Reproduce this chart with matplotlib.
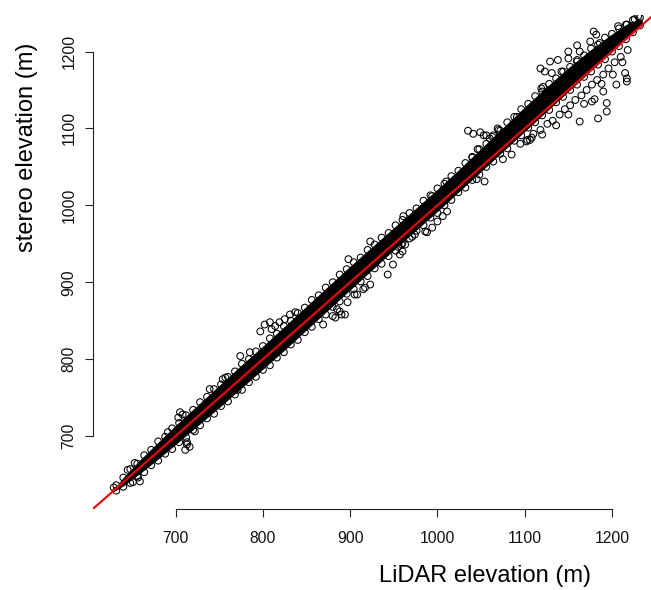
import matplotlib
matplotlib.use("Agg")
import matplotlib.pyplot as plt

plt.rcParams['font.family'] = ['Liberation Sans', 'DejaVu Sans']

# Dense core of the point cloud (edges of the solid black band)
band_lidar = [628, 640, 660, 680, 700, 725, 750, 775, 800, 825, 850, 875, 900, 925,
              950, 975, 1000, 1025, 1050, 1075, 1100, 1125, 1150, 1175, 1200, 1220, 1234]
band_low = [628, 636, 653, 671, 690, 714, 738, 763, 788, 813, 839, 865, 891, 917,
            943, 968, 993, 1019, 1045, 1071, 1097, 1123, 1149, 1175, 1201, 1222, 1236]
band_high = [628, 645, 669, 691, 713, 739, 765, 791, 816, 842, 868, 894, 920, 945,
             970, 995, 1020, 1046, 1073, 1100, 1127, 1153, 1178, 1201, 1222, 1237, 1242]

# Points along the upper edge of the band
upper_lidar = [632, 640, 648, 656, 664, 672, 680, 688, 696, 704, 712, 720, 728, 736, 744,
               752, 760, 768, 776, 784, 792, 800, 808, 816, 824, 832, 840, 848, 856, 864,
               872, 880, 888, 896, 904, 912, 920, 928, 936, 944, 952, 960, 968, 976, 984,
               992, 1000, 1008, 1016, 1024, 1032, 1040, 1048, 1056, 1064, 1072, 1080, 1088,
               1096, 1104, 1112, 1120, 1128, 1136, 1144, 1152, 1160, 1168, 1176, 1184, 1192,
               1200, 1208, 1216, 1224, 1232]
upper_stereo = [636, 646, 657, 664, 675, 682, 693, 699, 710, 717, 727, 734, 744, 751, 761,
                767, 777, 784, 794, 800, 810, 817, 827, 833, 843, 850, 860, 867, 877, 883,
                893, 900, 910, 917, 926, 932, 942, 949, 958, 964, 974, 981, 990, 996, 1006,
                1013, 1022, 1028, 1038, 1045, 1055, 1062, 1073, 1080, 1091, 1097, 1108, 1115,
                1125, 1132, 1142, 1148, 1158, 1165, 1174, 1180, 1189, 1195, 1204, 1209, 1218,
                1223, 1230, 1235, 1241, 1244]

# Points along the lower edge of the band
lower_lidar = upper_lidar[:]
lower_stereo = [629, 634, 639, 648, 653, 662, 668, 677, 683, 692, 698, 708, 714, 723, 729,
                739, 745, 754, 760, 770, 777, 786, 792, 802, 809, 819, 825, 835, 842, 852,
                858, 868, 875, 885, 891, 901, 908, 918, 924, 934, 941, 951, 957, 967, 974,
                984, 990, 1000, 1007, 1017, 1023, 1033, 1040, 1050, 1057, 1067, 1074, 1084,
                1091, 1101, 1108, 1117, 1124, 1134, 1141, 1150, 1157, 1167, 1174, 1183, 1190,
                1200, 1207, 1216, 1225, 1234]

# Scattered points away from the band
out_lidar = [629, 653, 645, 657, 659, 651, 705, 703, 708, 691, 713, 716, 711, 713, 722,
             739, 754, 757, 771, 774, 785, 797, 802, 808, 814, 819, 825, 831, 837, 810,
             885, 890, 880, 897, 869, 883, 888, 894, 905, 917, 923, 908, 915,
             943, 949, 957, 960, 959, 974, 988, 1000, 1006, 1011, 971, 986, 994, 955, 963,
             898, 923, 961, 994, 1010, 1054, 1045,
             1035, 1041, 1049, 1056, 1063, 1069, 1046, 1040, 1053, 1060, 1070, 1091,
             1118, 1123, 1131, 1129, 1138, 1150, 1142, 1150, 1160, 1163, 1160, 1179, 1175,
             1186, 1182, 1207, 1217, 1119, 1121,
             1163, 1184, 1194, 1194, 1180, 1177, 1190, 1205, 1215, 1217, 1217, 1201, 1106,
             1075, 1085, 1102, 1108,
             1095, 1103, 1110, 1118, 1126, 1132, 1140, 1146, 1152, 1158, 1165, 1171, 1177,
             1183, 1190, 1196, 1203, 1210, 1218,
             1120, 1136, 1150, 1168, 1188, 1212, 1226, 1230]
out_stereo = [633, 665, 656, 646, 641, 640, 731, 724, 728, 705, 692, 686, 682, 689, 706,
              761, 774, 776, 760, 804, 809, 836, 845, 848, 843, 848, 852, 858, 861, 839,
              865, 858, 856, 874, 845, 854, 862, 858, 884, 893, 897, 884, 891,
              910, 923, 936, 940, 949, 962, 965, 979, 986, 992, 959, 966, 971, 946, 949,
              930, 953, 986, 1012, 1031, 1031, 1034,
              1097, 1093, 1095, 1091, 1089, 1100, 1073, 1063, 1091, 1087, 1098, 1115,
              1178, 1174, 1172, 1187, 1189, 1191, 1174, 1200, 1208, 1200, 1187, 1226, 1213,
              1211, 1222, 1233, 1235, 1152, 1154,
              1109, 1113, 1122, 1133, 1138, 1135, 1148, 1157, 1172, 1165, 1161, 1170, 1085,
              1060, 1066, 1083, 1088,
              1080, 1085, 1093, 1098, 1106, 1110, 1118, 1125, 1130, 1137, 1143, 1150, 1157,
              1163, 1170, 1178, 1186, 1193, 1202,
              1092, 1104, 1118, 1132, 1158, 1186, 1242, 1246]

x_ticks = [700, 800, 900, 1000, 1100, 1200]
y_ticks = [700, 800, 900, 1000, 1100, 1200]
x_label = "LiDAR elevation (m)"
y_label = "stereo elevation (m)"

W, H = 651, 590
fig = plt.figure(figsize=(W / 100, H / 100), dpi=100)
ax = fig.add_axes([93 / W, (H - 509) / H, (651 - 93) / W, 494 / H])
ax.set_xlim(605.3, 1244.7)
ax.set_ylim(605.1, 1247.5)

ax.fill_between(band_lidar, band_low, band_high, color='black', linewidth=0.8, zorder=1)
pt = dict(marker='o', s=24, facecolors='none', edgecolors='black', linewidths=0.75, zorder=2)
ax.scatter(upper_lidar, upper_stereo, **pt)
ax.scatter(lower_lidar, lower_stereo, **pt)
ax.scatter(out_lidar, out_stereo, **pt)

ax.axline((700, 700), slope=1, color='red', linewidth=1.5, zorder=3)

for side in ['top', 'right']:
    ax.spines[side].set_visible(False)
ax.spines['left'].set_bounds(700, 1200)
ax.spines['bottom'].set_bounds(700, 1200)
for side in ['left', 'bottom']:
    ax.spines[side].set_linewidth(0.8)
    ax.spines[side].set_color('#222222')

ax.set_xticks(x_ticks)
ax.set_yticks(y_ticks)
ax.set_xticklabels([str(v) for v in x_ticks])
ax.set_yticklabels([str(v) for v in y_ticks], rotation=90, va='center')
ax.tick_params(axis='both', length=6, width=0.8, color='#222222', labelsize=11.3,
               labelcolor='#111111')
ax.tick_params(axis='x', pad=10)
ax.tick_params(axis='y', pad=6)

fig.text(485 / W, 1 - 576 / H, x_label, ha='center', va='center', fontsize=17)
fig.text(27 / W, 1 - 147 / H, y_label, ha='center', va='center', rotation=90, fontsize=17)

fig.savefig('out.png', dpi=100)
